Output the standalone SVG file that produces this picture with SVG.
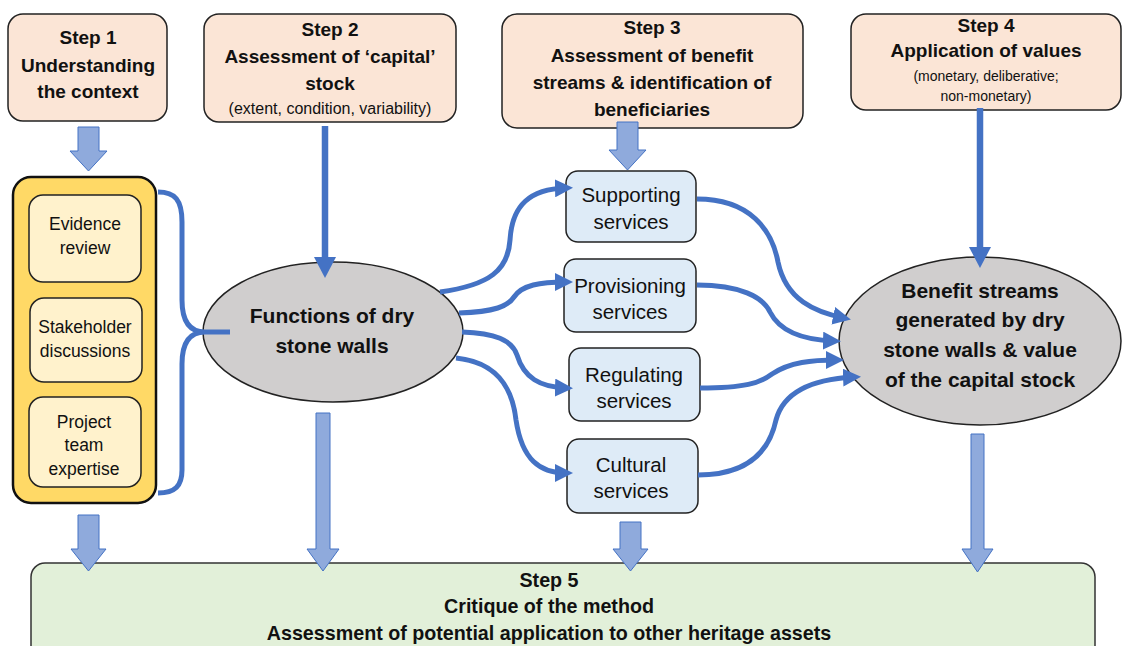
<svg xmlns="http://www.w3.org/2000/svg" width="1124" height="646" viewBox="0 0 1124 646">
<defs>
<style>
.step{fill:#FBE5D6;stroke:#222;stroke-width:1.5}
.svc{fill:#DEEBF7;stroke:#222;stroke-width:1.5}
.inner{fill:#FFF2CC;stroke:#222;stroke-width:1.5}
.ell{fill:#D0CECE;stroke:#222;stroke-width:1.5}
.t{font-family:"Liberation Sans",Arial,sans-serif;fill:#111;text-anchor:middle}
.tb{font-size:19px;font-weight:bold}
.ts{font-size:14px}
.tm{font-size:16px}
.tr{font-size:20.5px}
.ti{font-size:17.5px}
.te{font-size:21px;font-weight:bold}
.t5{font-size:19.7px;font-weight:bold}
.blk{fill:#8FAADC;stroke:#4472C4;stroke-width:1}
.cv{fill:none;stroke:#4472C4;stroke-width:5}
.vl{fill:none;stroke:#4472C4;stroke-width:6.5}
</style>
<marker id="ah" markerUnits="userSpaceOnUse" markerWidth="18" markerHeight="18" refX="11" refY="9" orient="auto">
<path d="M0,0 L18,9 L0,18 Z" fill="#4472C4"/>
</marker>
<marker id="ahb" markerUnits="userSpaceOnUse" markerWidth="22" markerHeight="22" refX="8" refY="11" orient="auto">
<path d="M0,0 L21,11 L0,22 Z" fill="#4472C4"/>
</marker>
</defs>

<g id="step1">
<rect class="step" x="8" y="14" width="159" height="107" rx="15"/>
<text class="t tb" x="88" y="44">Step 1</text>
<text class="t tb" x="88" y="72">Understanding</text>
<text class="t tb" x="88" y="98">the context</text>
</g>

<g id="step2">
<rect class="step" x="204" y="14" width="252" height="108" rx="15"/>
<text class="t tb" x="330" y="36">Step 2</text>
<text class="t tb" x="330" y="63">Assessment of ‘capital’</text>
<text class="t tb" x="330" y="90">stock</text>
<text class="t tm" x="330" y="114">(extent, condition, variability)</text>
</g>

<g id="step3">
<rect class="step" x="502" y="14" width="301" height="114" rx="15"/>
<text class="t tb" x="652" y="34">Step 3</text>
<text class="t tb" x="652" y="62">Assessment of benefit</text>
<text class="t tb" x="652" y="89">streams &amp; identification of</text>
<text class="t tb" x="652" y="116">beneficiaries</text>
</g>

<g id="step4">
<rect class="step" x="851" y="14" width="270" height="96" rx="15"/>
<text class="t tb" x="986" y="32">Step 4</text>
<text class="t tb" x="986" y="57">Application of values</text>
<text class="t ts" x="986" y="81">(monetary, deliberative;</text>
<text class="t ts" x="986" y="101">non-monetary)</text>
</g>

<g id="context-container">
<rect x="13" y="177" width="143" height="326" rx="18" fill="#FFD966" stroke="#111" stroke-width="2.5"/>
</g>
<g id="evidence">
<rect class="inner" x="29" y="195" width="112" height="87" rx="14"/>
<text class="t ti" x="85" y="230">Evidence</text>
<text class="t ti" x="85" y="254">review</text>
</g>
<g id="stakeholder">
<rect class="inner" x="30" y="298" width="112" height="84" rx="14"/>
<text class="t ti" x="85" y="333">Stakeholder</text>
<text class="t ti" x="85" y="357">discussions</text>
</g>
<g id="project">
<rect class="inner" x="29" y="397" width="112" height="90" rx="14"/>
<text class="t ti" x="84" y="428">Project</text>
<text class="t ti" x="84" y="451">team</text>
<text class="t ti" x="84" y="475">expertise</text>
</g>

<g id="functions">
<ellipse class="ell" cx="333" cy="332" rx="130" ry="70"/>
<text class="t te" x="332" y="323">Functions of dry</text>
<text class="t te" x="332" y="353">stone walls</text>
</g>

<g id="supporting">
<rect class="svc" x="566" y="171" width="130" height="71" rx="12"/>
<text class="t tr" x="631" y="202">Supporting</text>
<text class="t tr" x="631" y="229">services</text>
</g>
<g id="provisioning">
<rect class="svc" x="564" y="259" width="132" height="73" rx="12"/>
<text class="t tr" x="630" y="293">Provisioning</text>
<text class="t tr" x="630" y="319">services</text>
</g>
<g id="regulating">
<rect class="svc" x="569" y="348" width="131" height="73" rx="12"/>
<text class="t tr" x="634" y="382">Regulating</text>
<text class="t tr" x="634" y="408">services</text>
</g>
<g id="cultural">
<rect class="svc" x="567" y="439" width="131" height="74" rx="12"/>
<text class="t tr" x="631" y="472">Cultural</text>
<text class="t tr" x="631" y="498">services</text>
</g>

<g id="benefit">
<ellipse class="ell" cx="980" cy="341" rx="141" ry="84"/>
<text class="t te" x="980" y="298">Benefit streams</text>
<text class="t te" x="980" y="327">generated by dry</text>
<text class="t te" x="980" y="357">stone walls &amp; value</text>
<text class="t te" x="980" y="387">of the capital stock</text>
</g>

<g id="step5">
<rect x="31" y="563" width="1064" height="100" rx="14" fill="#E2F0D9" stroke="#333" stroke-width="1.5"/>
<text class="t t5" x="549" y="587">Step 5</text>
<text class="t t5" x="549" y="613">Critique of the method</text>
<text class="t t5" x="549" y="640">Assessment of potential application to other heritage assets</text>
</g>

<g id="connectors">
<path class="blk" d="M78,127 H99 V151 H107 L88.5,171 L70,151 H78 Z"/>
<path class="blk" d="M617,122 H638 V150 H646 L627.5,170 L609,150 H617 Z"/>
<path class="blk" d="M78,515 H99 V549 H106 L88.5,571 L71,549 H78 Z"/>
<path class="blk" d="M316,413 H330 V549 H339 L323,571 L307,549 H316 Z"/>
<path class="blk" d="M620,522 H641 V549 H648 L630.5,571 L613,549 H620 Z"/>
<path class="blk" d="M971,434 H984 V549 H993 L977.5,572 L962,549 H971 Z"/>

<path class="vl" d="M325,126 V265" marker-end="url(#ahb)"/>
<path class="vl" d="M980,108 V255" marker-end="url(#ahb)"/>

<path class="cv" d="M158,192 C175,192 182,200 182,222 L182,300 C182,322 190,332 205,332 L230,332 M205,332 C190,332 182,342 182,364 L182,470 C182,486 175,493 158,493"/>

<path class="cv" d="M440,292 C490,285 508,270 510,240 C512,205 530,189 566,188" marker-end="url(#ah)"/>
<path class="cv" d="M459,313 C495,312 508,306 514,297 C522,285 540,282 566,282" marker-end="url(#ah)"/>
<path class="cv" d="M462,332 C495,333 512,340 517,355 C524,378 540,387 566,388" marker-end="url(#ah)"/>
<path class="cv" d="M456,358 C495,362 512,385 516,420 C522,460 540,473 566,473" marker-end="url(#ah)"/>

<path class="cv" d="M697,199 C750,199 772,230 778,262 C786,300 815,312 844,318" marker-end="url(#ah)"/>
<path class="cv" d="M697,285 C740,285 763,297 770,312 C780,332 805,340 834,341" marker-end="url(#ah)"/>
<path class="cv" d="M700,388 C745,388 760,383 772,374 C790,362 812,360 837,360" marker-end="url(#ah)"/>
<path class="cv" d="M698,475 C752,475 770,448 776,420 C784,390 815,379 854,377" marker-end="url(#ah)"/>
</g>
</svg>
